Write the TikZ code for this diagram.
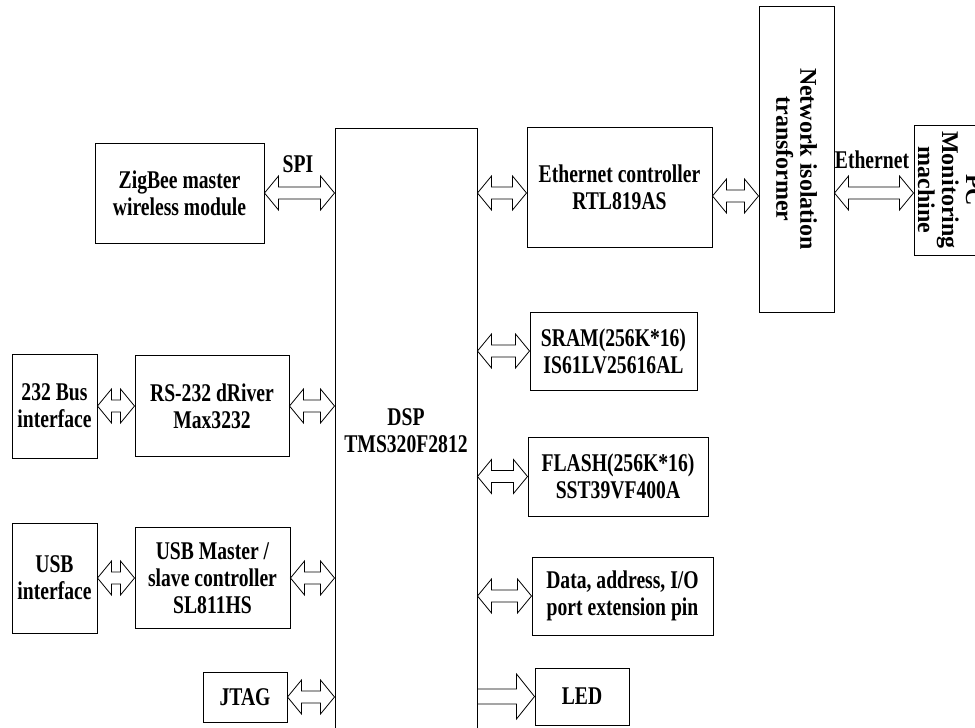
\documentclass[tikz,border=0pt]{standalone}
\usepackage{fontspec}
\setmainfont{Liberation Serif}[FakeStretch=0.77]
\newfontfamily\upfont{Liberation Serif}
\usetikzlibrary{calc}

% hollow double-headed bus arrow, left point to right point
\newcommand{\busarrow}[2]{%
  \draw[bus] let \p1=#1, \p2=#2 in
    (\x1,\y1) -- (\x1+14pt,\y1+17pt) -- (\x1+14pt,\y1+6pt) -- (\x2-14pt,\y1+6pt)
    -- (\x2-14pt,\y1+17pt) -- (\x2,\y1) -- (\x2-14pt,\y1-17pt) -- (\x2-14pt,\y1-6pt)
    -- (\x1+14pt,\y1-6pt) -- (\x1+14pt,\y1-17pt) -- cycle;}

\begin{document}
\begin{tikzpicture}[
    x=1pt, y=-1pt,
    font=\fontsize{25.5}{27}\selectfont\bfseries,
    block/.style={draw, line width=1pt, align=center, inner sep=0pt},
    vblock/.style={block, rotate=-90, font=\upfont\fontsize{24}{24}\selectfont\bfseries},
    bus/.style={line width=0.8pt, line join=miter},
    lbl/.style={inner sep=0pt}
]
\useasboundingbox (0,0) rectangle (975,728);
\clip (0,0) rectangle (975,728);

\node[block, minimum width=142, minimum height=606] (dsp) at (406,431) {DSP\\TMS320F2812};

\node[block, minimum width=169, minimum height=100] (zig) at (179.5,193) {ZigBee master\\wireless module};
\node[block, minimum width=85, minimum height=104] (bus232) at (54.5,406) {232 Bus\\interface};
\node[block, minimum width=154, minimum height=101] (rs232) at (212,406) {RS-232 dRiver\\Max3232};
\node[block, minimum width=85, minimum height=110] (usbif) at (54.5,578) {USB\\interface};
\node[block, minimum width=155, minimum height=101] (usb) at (212.5,578) {USB Master /\\slave controller\\SL811HS};
\node[block, minimum width=84, minimum height=50] (jtag) at (245,697) {JTAG};

\node[block, minimum width=185, minimum height=120] (eth) at (619.5,187) {Ethernet controller\\RTL819AS};
\node[block, minimum width=167, minimum height=78] (sram) at (613.5,351) {SRAM(256K*16)\\IS61LV25616AL};
\node[block, minimum width=180, minimum height=79] (flash) at (618,476.5) {FLASH(256K*16)\\SST39VF400A};
\node[block, minimum width=181, minimum height=78] (data) at (622.5,596) {Data, address, I/O\\port extension pin};
\node[block, minimum width=94, minimum height=57] (led) at (582,696.5) {LED};

\node[vblock, minimum width=306, minimum height=75] (trans) at (796.5,159) {Network isolation\\transformer};
\node[vblock, minimum width=130, minimum height=72] (pc) at (950,190) {PC\\Monitoring\\machine};

\node[lbl] (spi) at (298,164) {SPI};
\node[lbl] (ethlbl) at (872,160) {Ethernet};

\coordinate (ethbus) at ([yshift=-6pt]eth.west);
\coordinate (txbus) at ([yshift=-9pt]eth.east);

\busarrow{(zig.east)}{(zig.east -| dsp.west)}
\busarrow{(bus232.east)}{(rs232.west)}
\busarrow{(rs232.east)}{(rs232.east -| dsp.west)}
\busarrow{(usbif.east)}{(usb.west)}
\busarrow{(usb.east)}{(usb.east -| dsp.west)}
\busarrow{(jtag.east)}{(jtag.east -| dsp.west)}
\busarrow{(dsp.east |- ethbus)}{(ethbus)}
\busarrow{(txbus)}{(txbus -| trans.south)}
\busarrow{(trans.north |- ethbus)}{(pc.south |- ethbus)}
\busarrow{(dsp.east |- sram.west)}{(sram.west)}
\busarrow{(dsp.east |- flash.west)}{(flash.west)}
\busarrow{(dsp.east |- data.west)}{(data.west)}
\draw[bus] let \p1=(dsp.east |- led.west), \p2=(led.west) in
    (\x1,\y1+7.5pt) -- (\x2-18pt,\y1+7.5pt) -- (\x2-18pt,\y1+22.5pt) -- (\x2,\y1)
    -- (\x2-18pt,\y1-22.5pt) -- (\x2-18pt,\y1-7.5pt) -- (\x1,\y1-7.5pt);
\end{tikzpicture}
\end{document}
